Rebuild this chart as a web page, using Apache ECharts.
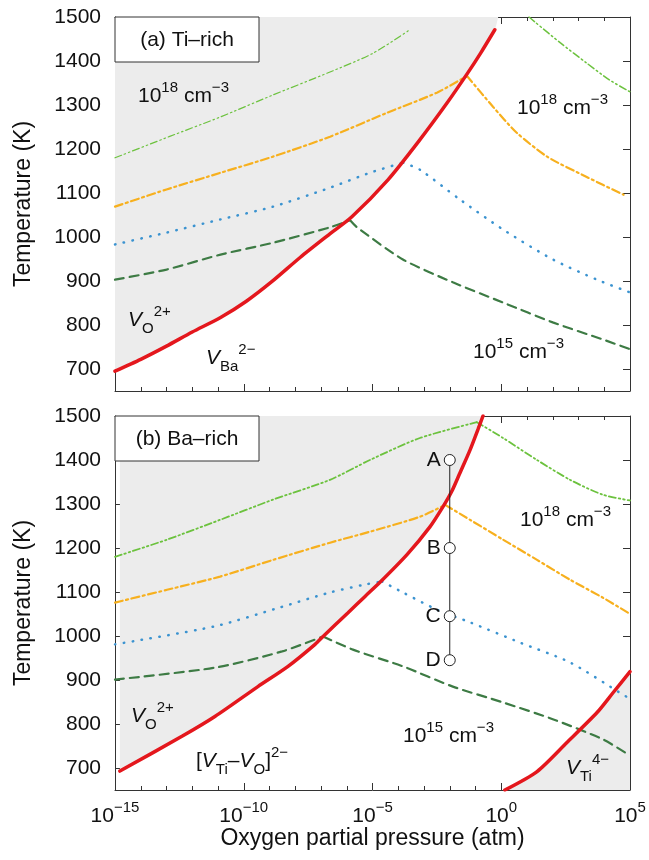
<!DOCTYPE html>
<html>
<head>
<meta charset="utf-8">
<script src="https://cdn.jsdelivr.net/npm/echarts@6/dist/echarts.min.js"></script>
<style>
  html, body { margin: 0; padding: 0; background: #fff; }
  #chart { width: 649px; height: 860px; }
</style>
</head>
<body>
<div id="chart"></div>
<script>
// x = log10(pO2 / atm), y = temperature (K)

// (a) Ti-rich
const tiBoundary = [[-15, 695], [-14, 722], [-13, 752], [-12, 784], [-10.9, 817], [-9.9, 854], [-8.9, 899],
  [-7.8, 954], [-6.7, 1005], [-5.8, 1046], [-4.4, 1130], [-3.2, 1218], [-2.1, 1305], [-1.3, 1373],
  [-0.8, 1418], [-0.25, 1471]];
const tiShade = tiBoundary.concat([[-0.12, 1500]]);
const tiGreenLow = [[-15, 1180], [-12.9, 1228], [-10.9, 1273], [-8.9, 1322], [-6.65, 1375], [-5, 1417], [-3.55, 1471]];
const tiGreenHigh = [[1.08, 1500], [1.3, 1489], [2.3, 1441], [3.3, 1396], [4.2, 1357], [5, 1330]];
const tiOrange = [[-15, 1069], [-13, 1108], [-10.9, 1146], [-8.9, 1182], [-6.65, 1228], [-4.45, 1282],
  [-2.5, 1328], [-1.33, 1366], [-0.32, 1296], [0.6, 1237], [1.8, 1182], [3.3, 1137], [4.75, 1096]];
const tiBlue = [[-15, 983], [-13, 1010], [-10.9, 1040], [-8.86, 1069], [-6.65, 1112], [-5.1, 1146],
  [-3.82, 1169], [-3.16, 1153], [-1.6, 1085], [0.07, 1017], [2.0, 949], [3.72, 903], [5, 874]];
const tiDkGreen = [[-15, 903], [-13, 926], [-10.9, 960], [-8.86, 987], [-6.65, 1022], [-5.87, 1038],
  [-5.6, 1022], [-3.82, 949], [-1.88, 897], [0.07, 851], [2.0, 806], [3.95, 767], [5, 745]];

// (b) Ba-rich
const baBoundary = [[-14.81, 693], [-12.4, 772], [-11.12, 817], [-9.45, 885], [-8.28, 931], [-7.23, 981],
  [-6.92, 999], [-5.95, 1053], [-5.29, 1090], [-4.71, 1122], [-3.66, 1185], [-2.77, 1248], [-2.26, 1294],
  [-1.91, 1330], [-1.6, 1371], [-1.21, 1423], [-0.9, 1470], [-0.71, 1500]];
const baTiBoundary = [[0.14, 650], [1.39, 692], [2.55, 758], [3.72, 826], [4.34, 871], [5, 919]];
const baGreen = [[-15, 1180], [-12.98, 1219], [-10.92, 1264], [-8.86, 1310], [-6.65, 1355], [-5.1, 1400],
  [-3.16, 1450], [-0.95, 1486], [0.07, 1450], [1.39, 1400], [2.67, 1355], [3.95, 1321], [5, 1308]];
const baOrange = [[-15, 1076], [-12.98, 1105], [-10.92, 1135], [-8.86, 1173], [-6.65, 1212], [-5.1, 1237],
  [-3.16, 1271], [-2.18, 1298], [-1.21, 1264], [0.07, 1219], [1.39, 1173], [2.67, 1128], [3.95, 1087], [4.92, 1053]];
const baBlue = [[-15, 981], [-11.12, 1022], [-8.7, 1063], [-6.65, 1099], [-5.29, 1117], [-4.63, 1124],
  [-3.82, 1099], [-2.5, 1060], [-1.21, 1031], [0.73, 985], [2.67, 940], [4.61, 871], [4.92, 860]];
const baDkGreen = [[-15, 901], [-11.12, 928], [-8.51, 965], [-6.92, 999], [-5.76, 969], [-3.82, 931],
  [-1.88, 885], [0.07, 849], [2.0, 811], [3.95, 765], [4.92, 731]];

// annealing path A-D
const pathNames = ['A', 'B', 'C', 'D'];
const pathX = [-2, -2, -2, -2];
const pathT = [1400, 1200, 1045, 945];

const FONT = '"Liberation Sans", Arial, Helvetica, sans-serif';
const INK = '#111';
const AXIS = '#333';
const RED = '#e4171d';
const ORANGE = '#f7b01e';
const BLUE = '#3b93d0';
const DKGREEN = '#3d7b44';
const LTGREEN = '#6cc23e';
const SHADE = '#ececec';

const chart = echarts.init(document.getElementById('chart'));

function xAxes(grid, withLabels) {
  const base = {
    type: 'value', gridIndex: grid, min: -15, max: 5, interval: 5,
    axisLine: { show: true, onZero: false, lineStyle: { color: AXIS, width: 1 } },
    axisTick: { inside: true, length: 7, lineStyle: { color: AXIS } },
    minorTick: { show: true, splitNumber: 5, length: 4, lineStyle: { color: AXIS } },
    splitLine: { show: false },
  };
  return [
    Object.assign({}, base, {
      position: 'bottom',
      axisLabel: withLabels ? {
        margin: 10,
        formatter: (v) => '{n|10}{s|' + (v < 0 ? '\u2212' + (-v) : v) + '}',
        rich: {
          n: { fontSize: 21, fontFamily: FONT, color: INK, lineHeight: 32 },
          s: { fontSize: 15, fontFamily: FONT, color: INK, verticalAlign: 'top', lineHeight: 15 },
        },
      } : { show: false },
      name: withLabels ? 'Oxygen partial pressure (atm)' : '',
      nameLocation: 'middle',
      nameGap: 37,
      nameTextStyle: { fontSize: 23, fontFamily: FONT, color: INK, verticalAlign: 'top' },
    }),
    Object.assign({}, base, { position: 'top', axisLabel: { show: false } }),
  ];
}

function yAxes(grid) {
  const base = {
    type: 'value', gridIndex: grid, min: 650, max: 1500, splitNumber: 8,
    axisLine: { show: true, onZero: false, lineStyle: { color: AXIS, width: 1 } },
    axisTick: { inside: true, length: 7, lineStyle: { color: AXIS } },
    splitLine: { show: false },
  };
  return [
    Object.assign({}, base, {
      position: 'left',
      axisLabel: {
        margin: 14, fontSize: 21, fontFamily: FONT, color: INK,
        formatter: (v) => (v % 100 === 0 ? String(v) : ''),
      },
      name: 'Temperature (K)',
      nameLocation: 'middle',
      nameGap: 80,
      nameTextStyle: { fontSize: 23, fontFamily: FONT, color: INK },
    }),
    Object.assign({}, base, { position: 'right', axisLabel: { show: false } }),
  ];
}

function curve(data, axis, color, width, type, z) {
  return {
    type: 'line', data: data, xAxisIndex: axis, yAxisIndex: axis,
    symbol: 'none', smooth: 0.25, z: z || 3, silent: true,
    lineStyle: { color: color, width: width, type: type, cap: 'round' },
  };
}

// contour lines have a sharp corner where they meet the boundary: draw each side on its own
function contour(data, axis, color, width, type) {
  let k = 0;
  data.forEach((p, i) => { if (p[1] > data[k][1]) k = i; });
  return [
    curve(data.slice(0, k + 1), axis, color, width, type),
    curve(data.slice(k), axis, color, width, type),
  ];
}

function shade(data, axis, origin) {
  return {
    type: 'line', data: data, xAxisIndex: axis, yAxisIndex: axis,
    symbol: 'none', smooth: 0.25, z: 1, silent: true,
    lineStyle: { width: 0 },
    areaStyle: { color: SHADE, opacity: 1, origin: origin },
  };
}

const dashDotDot = [7, 3, 1.5, 3, 1.5, 3];
const dashDot = [8, 3.5, 2, 3.5];
const dots = [0.5, 8.5];
const dashes = [9, 6];

const rich = {
  n: { fontSize: 21, fontFamily: FONT, fill: INK, lineHeight: 32 },
  i: { fontSize: 21, fontFamily: FONT, fontStyle: 'italic', fill: INK, lineHeight: 32 },
  s: { fontSize: 15, fontFamily: FONT, fill: INK, verticalAlign: 'top', lineHeight: 15 },
  d: { fontSize: 15, fontFamily: FONT, fill: INK, verticalAlign: 'bottom', lineHeight: 19 },
};

function note(x, y, text) {
  return { type: 'text', x: x, y: y, z: 20, silent: true,
    style: { text: text, rich: rich, align: 'left', verticalAlign: 'middle' } };
}

function panelTag(top, text) {
  return [
    { type: 'rect', shape: { x: 115, y: top, width: 144, height: 45 }, z: 19, silent: true,
      style: { fill: '#fff', stroke: AXIS, lineWidth: 1 } },
    { type: 'text', x: 187, y: top + 23, z: 20, silent: true,
      style: { text: text, fontSize: 21, fontFamily: FONT, fill: INK, align: 'center', verticalAlign: 'middle' } },
  ];
}

const conc18 = '{n|10}{s|18}{n| cm}{s|\u22123}';
const conc15 = '{n|10}{s|15}{n| cm}{s|\u22123}';

chart.setOption({
  animation: false,
  grid: [
    { left: 115, top: 17, width: 515, height: 374 },
    { left: 115, top: 416, width: 515, height: 374 },
  ],
  xAxis: [].concat(xAxes(0, false), xAxes(1, true)),
  yAxis: [].concat(yAxes(0), yAxes(1)),
  series: [].concat(
    // top panel: xAxis 0 / yAxis 0
    shade(tiShade, 0, 'end'),
    curve(tiGreenLow, 0, LTGREEN, 1.2, dashDotDot),
    curve(tiGreenHigh, 0, LTGREEN, 1.5, dashDotDot),
    contour(tiOrange, 0, ORANGE, 2.2, dashDot),
    contour(tiBlue, 0, BLUE, 2.5, dots),
    contour(tiDkGreen, 0, DKGREEN, 2.2, dashes),
    curve(tiBoundary, 0, RED, 3.5, 'solid', 5),
    // bottom panel: xAxis 2 / yAxis 2
    shade(baBoundary, 2, 'end'),
    shade(baTiBoundary, 2, 'start'),
    contour(baGreen, 2, LTGREEN, 1.8, dashDotDot),
    contour(baOrange, 2, ORANGE, 2.2, dashDot),
    contour(baBlue, 2, BLUE, 2.5, dots),
    contour(baDkGreen, 2, DKGREEN, 2.2, dashes),
    curve(baBoundary, 2, RED, 3.5, 'solid', 5),
    curve(baTiBoundary, 2, RED, 3.5, 'solid', 5),
    [{
      type: 'line', xAxisIndex: 2, yAxisIndex: 2, z: 6, silent: true,
      data: pathNames.map((n, k) => ({ name: n, value: [pathX[k], pathT[k]] })),
      symbol: 'circle', symbolSize: 11, showAllSymbol: true,
      lineStyle: { color: '#222', width: 1 },
      itemStyle: { color: '#fff', borderColor: '#222', borderWidth: 1 },
      label: { show: true, position: 'left', distance: 3, formatter: '{b}',
        fontSize: 21, fontFamily: FONT, color: INK },
    }]
  ),
  graphic: [].concat(
    panelTag(17, '(a) Ti\u2013rich'),
    panelTag(416, '(b) Ba\u2013rich'),
    [
      note(138, 96, conc18),
      note(517, 108, conc18),
      note(473, 352, conc15),
      note(128, 320, '{i|V}{d|O}{s|2+}'),
      note(206, 358, '{i|V}{d|Ba}{s|2\u2212}'),
      note(520, 520, conc18),
      note(403, 736, conc15),
      note(131, 716, '{i|V}{d|O}{s|2+}'),
      note(196, 761, '{n|[}{i|V}{d|Ti}{n|\u2013}{i|V}{d|O}{n|]}{s|2\u2212}'),
      note(566, 768, '{i|V}{d|Ti}{s|4\u2212}'),
    ]
  ),
});
</script>
</body>
</html>
